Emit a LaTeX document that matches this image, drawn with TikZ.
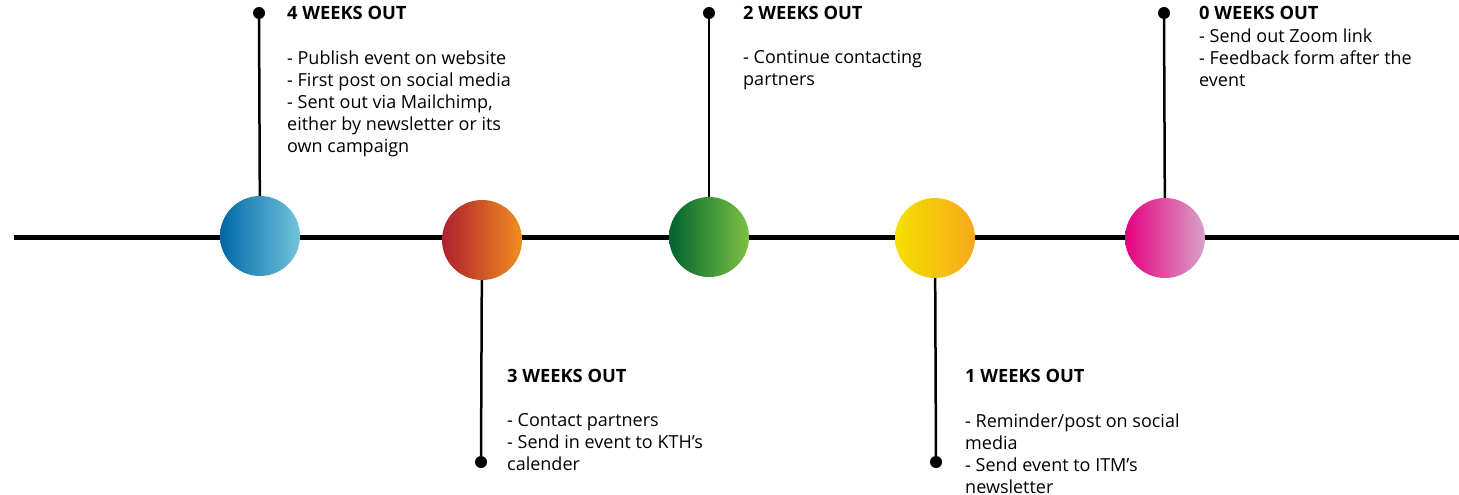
\documentclass[tikz,border=0pt]{standalone}
\usepackage{fontspec}
\setmainfont{Open Sans}
\definecolor{blueL}{HTML}{0068A8}
\definecolor{blueR}{HTML}{72C4DB}
\definecolor{orangeL}{HTML}{AE1F2F}
\definecolor{orangeR}{HTML}{F28E1E}
\definecolor{greenL}{HTML}{00632F}
\definecolor{greenM}{HTML}{00893A}
\definecolor{greenR}{HTML}{7CC242}
\definecolor{yellowL}{HTML}{F5E000}
\definecolor{yellowR}{HTML}{F6A81C}
\definecolor{pinkL}{HTML}{E6007E}
\definecolor{pinkR}{HTML}{D9A2C9}
\begin{document}
\begin{tikzpicture}[x=1pt,y=-1pt,
  milestone/.style={circle,minimum size=80pt,inner sep=0},
  stem/.style={line width=2.5pt},
  pin/.style={circle,fill,minimum size=12pt,inner sep=0},
  heading/.style={anchor=base west,inner sep=0,font=\fontsize{18.3}{22}\selectfont\bfseries},
  body/.style={anchor=north west,inner sep=0,align=left,font=\fontsize{18}{22}\selectfont}]
  \useasboundingbox (0,0) rectangle (1459,495);

  % timeline
  \coordinate (ls) at (14,237);
  \coordinate (le) at (1459,237);
  \draw[line width=5pt] (ls) -- (le);

  % milestones
  \node[milestone,left color=blueL,right color=blueR] (c4) at (260,236) {};
  \node[milestone,left color=orangeL,right color=orangeR] (c3) at (482,240) {};
  \node[milestone,left color=greenL,middle color=greenM,right color=greenR] (c2) at (709,237) {};
  \node[milestone,left color=yellowL,right color=yellowR] (c1) at (935,238) {};
  \node[milestone,left color=pinkL,right color=pinkR] (c0) at (1165,238) {};

  % pins
  \node[pin] (d4) at (259,13) {};
  \node[pin] (d3) at (481,462) {};
  \node[pin] (d2) at (709,13) {};
  \node[pin] (d1) at (936,462) {};
  \node[pin] (d0) at (1164,13) {};
  \draw[stem] (c4) -- (d4);
  \draw[stem] (c3) -- (d3);
  \draw[stem] (c2) -- (d2);
  \draw[stem] (c1) -- (d1);
  \draw[stem] (c0) -- (d0);

  % 4 weeks
  \node[heading] (h4) at (287,20) {4 WEEKS OUT};
  \node[body] (t4) at (287,50.5) {- Publish event on website\\- First post on social media\\- Sent out via Mailchimp,\\either by newsletter or its\\own campaign};

  % 3 weeks
  \node[heading] (h3) at (507,382) {3 WEEKS OUT};
  \node[body] (t3) at (507,413.5) {- Contact partners\\- Send in event to KTH’s\\calender};

  % 2 weeks
  \node[heading] (h2) at (743,20) {2 WEEKS OUT};
  \node[body] (t2) at (743,50.5) {- Continue contacting\\partners};

  % 1 weeks
  \node[heading] (h1) at (965,382) {1 WEEKS OUT};
  \node[body] (t1) at (965,413.5) {- Reminder/post on social\\media\\- Send event to ITM’s\\newsletter};

  % 0 weeks
  \node[heading] (h0) at (1199,20) {0 WEEKS OUT};
  \node[body] (t0) at (1199,28.5) {- Send out Zoom link\\- Feedback form after the\\event};
\end{tikzpicture}
\end{document}
